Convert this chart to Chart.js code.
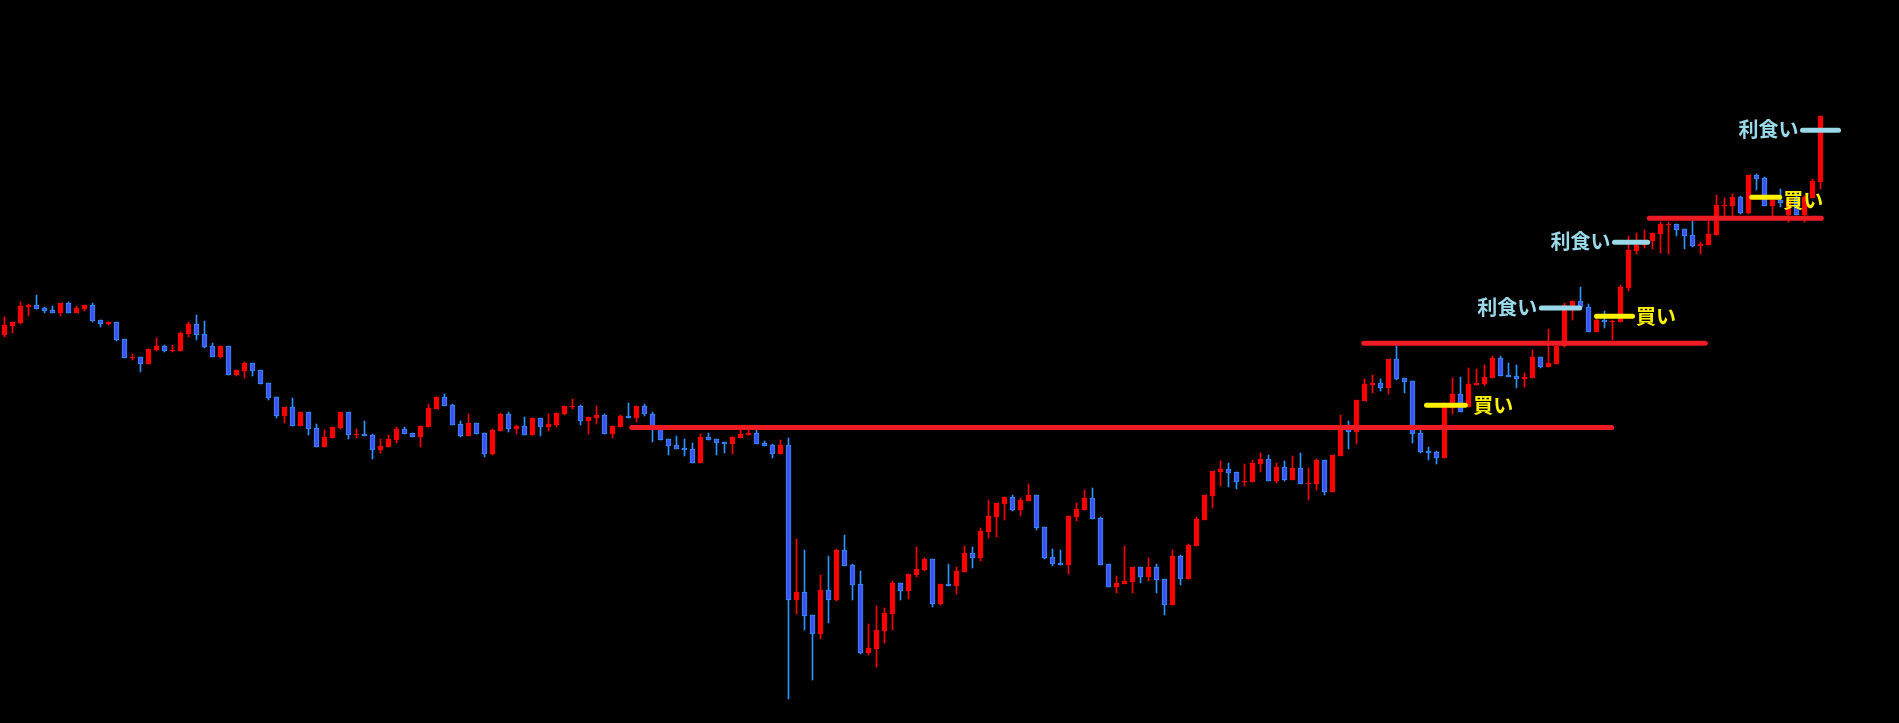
<!DOCTYPE html>
<html>

<head>
    <meta charset="utf-8">
    <script src="https://cdn.jsdelivr.net/npm/chart.js@4.4.0/dist/chart.umd.min.js"></script>
    <style>
        html, body {
            margin: 0;
            padding: 0;
            background: #000000;
        }

        #chart-container {
            width: 1899px;
            height: 723px;
            position: relative;
        }
    </style>
</head>

<body>
    <div id="chart-container">
        <canvas id="candleChart"></canvas>
    </div>
    <script>
        // OHLC per bar (price units)
        const opens = [
            388, 397, 400, 416, 418, 415, 413, 410, 420, 410,
            414, 418, 403, 399, 401, 384, 365, 366, 359, 373,
            377, 372, 372, 389, 399, 389, 377, 366, 377, 348,
            352, 360, 353, 340, 326, 307, 316, 297, 311, 295,
            276, 285, 295, 311, 288, 289, 288, 273, 276, 283,
            294, 290, 286, 296, 314, 326, 318, 299, 287, 300,
            290, 269, 292, 309, 294, 297, 288, 305, 296, 298,
            309, 316, 317, 302, 305, 308, 289, 296, 307, 305,
            317, 309, 294, 284, 278, 275, 274, 260, 286, 284,
            281, 279, 285, 288, 290, 280, 278, 269, 278, 123,
            131, 108, 89, 133, 123, 173, 158, 139, 70, 74,
            92, 109, 140, 132, 148, 153, 164, 119, 139, 137,
            151, 170, 165, 191, 206, 219, 226, 213, 222, 228,
            196, 166, 160, 158, 206, 213, 225, 205, 159, 136,
            139, 141, 156, 146, 156, 144, 118, 167, 144, 177,
            203, 227, 251, 254, 251, 241, 241, 259, 264, 242,
            256, 243, 255, 239, 239, 263, 231, 267, 294, 291,
            322, 338, 340, 335, 364, 345, 342, 290, 272, 271,
            265, 315, 329, 316, 338, 339, 345, 365, 348, 347,
            344, 345, 366, 356, 359, 377, 416, 422, 416, 391,
            403, 401, 401, 435, 472, 478, 482, 489, 498, 499,
            494, 488, 477, 478, 488, 517, 517, 526, 510, 548,
            545, 517, 523, 508, 526, 508, 525, 541
        ];
        const highs = [
            406, 401, 421, 419, 428, 416, 417, 420, 421, 417,
            418, 420, 403, 401, 401, 384, 369, 366, 374, 385,
            378, 378, 391, 401, 408, 402, 380, 377, 377, 353,
            361, 360, 353, 340, 326, 316, 325, 311, 311, 299,
            293, 296, 311, 311, 294, 302, 289, 284, 288, 296,
            296, 290, 297, 319, 326, 329, 319, 302, 309, 300,
            290, 294, 310, 311, 298, 306, 305, 305, 309, 310,
            317, 324, 318, 306, 317, 309, 297, 308, 320, 317,
            319, 311, 295, 284, 287, 284, 280, 289, 290, 284,
            281, 286, 295, 295, 294, 282, 279, 283, 285, 184,
            173, 108, 148, 167, 174, 188, 159, 152, 99, 117,
            115, 142, 140, 149, 176, 165, 164, 139, 159, 156,
            177, 176, 195, 223, 220, 226, 228, 225, 239, 228,
            196, 174, 173, 207, 220, 233, 235, 206, 159, 147,
            177, 156, 156, 165, 159, 144, 173, 168, 179, 206,
            228, 252, 262, 260, 251, 259, 263, 270, 268, 260,
            262, 267, 270, 255, 264, 263, 268, 308, 302, 323,
            344, 348, 344, 364, 377, 345, 342, 294, 276, 272,
            320, 345, 346, 355, 354, 358, 367, 367, 360, 358,
            350, 373, 366, 394, 377, 420, 422, 436, 419, 405,
            412, 403, 438, 487, 490, 493, 490, 501, 501, 499,
            494, 502, 481, 502, 528, 525, 529, 527, 548, 549,
            546, 523, 534, 525, 531, 527, 544, 607
        ];
        const lows = [
            386, 390, 399, 407, 414, 410, 410, 407, 410, 410,
            412, 401, 396, 398, 382, 365, 363, 351, 359, 372,
            371, 371, 372, 386, 383, 375, 366, 365, 348, 347,
            345, 347, 339, 323, 305, 300, 297, 297, 288, 276,
            276, 285, 294, 284, 285, 287, 264, 270, 276, 280,
            289, 286, 276, 296, 314, 317, 298, 286, 287, 289,
            266, 268, 292, 291, 289, 288, 288, 287, 292, 296,
            308, 314, 298, 289, 299, 289, 285, 296, 305, 301,
            307, 281, 283, 268, 274, 267, 260, 260, 283, 268,
            270, 269, 285, 288, 279, 277, 265, 269, 24, 109,
            93, 43, 84, 100, 122, 157, 123, 69, 68, 56,
            80, 93, 123, 124, 146, 152, 116, 118, 137, 129,
            151, 155, 162, 185, 186, 203, 212, 207, 222, 193,
            164, 157, 158, 149, 202, 213, 204, 158, 136, 130,
            139, 130, 140, 142, 130, 108, 118, 138, 144, 177,
            203, 215, 237, 236, 234, 237, 241, 251, 242, 240,
            242, 243, 239, 223, 233, 228, 231, 267, 274, 279,
            322, 330, 332, 329, 343, 330, 280, 270, 263, 259,
            265, 309, 311, 316, 338, 337, 345, 347, 346, 335,
            336, 345, 355, 356, 359, 376, 403, 416, 391, 391,
            395, 383, 401, 432, 469, 475, 474, 470, 469, 487,
            474, 476, 469, 478, 488, 507, 507, 509, 509, 533,
            517, 507, 516, 501, 508, 501, 525, 534
        ];
        const closes = [
            398, 401, 417, 418, 414, 412, 410, 420, 410, 415,
            418, 402, 399, 401, 383, 365, 366, 359, 374, 377,
            372, 373, 390, 399, 388, 376, 366, 377, 348, 353,
            360, 352, 339, 325, 307, 316, 297, 311, 294, 276,
            286, 296, 311, 288, 289, 287, 273, 277, 284, 294,
            289, 286, 297, 315, 326, 317, 298, 287, 300, 289,
            269, 293, 309, 294, 297, 288, 305, 296, 299, 310,
            317, 317, 302, 306, 308, 289, 297, 307, 305, 317,
            309, 295, 283, 277, 274, 273, 260, 286, 283, 280,
            279, 286, 289, 290, 279, 277, 269, 278, 123, 131,
            107, 89, 133, 123, 173, 157, 138, 70, 75, 93,
            110, 140, 132, 149, 154, 164, 119, 139, 137, 152,
            170, 165, 192, 207, 220, 226, 213, 223, 228, 195,
            165, 159, 158, 207, 214, 225, 204, 158, 136, 140,
            142, 156, 146, 156, 143, 118, 167, 144, 178, 204,
            228, 252, 254, 250, 241, 242, 260, 264, 242, 256,
            243, 255, 239, 240, 263, 231, 268, 297, 291, 323,
            339, 340, 335, 364, 344, 341, 289, 271, 270, 265,
            319, 329, 311, 339, 340, 346, 365, 347, 346, 344,
            346, 366, 356, 360, 377, 418, 422, 416, 391, 403,
            401, 402, 436, 473, 478, 481, 490, 499, 499, 493,
            487, 477, 479, 489, 518, 518, 526, 510, 548, 544,
            517, 523, 520, 523, 508, 526, 542, 607
        ];

        // hand-drawn levels: bar index range and price
        const lineFrom = [78.4, 169.9, 205.6];
        const lineTo = [200.9, 212.6, 227.1];
        const lineLevel = [295.5, 379.7, 504.7];

        const buyFrom = [177.75, 199, 218.4];
        const buyTo = [182.6, 203.5, 221.9];
        const buyLevel = [317.7, 406.7, 525.7];

        const takeFrom = [192.1, 201.25, 224.75];
        const takeTo = [196.9, 205.4, 229.25];
        const takeLevel = [415, 480.7, 592.7];

        const buyLabel = '買い';
        const takeLabel = '利食い';

        const UP = '#ff0000';
        const DOWN_FILL = '#4052f0';
        const DOWN_EDGE = '#3190ff';
        const LINE_RED = '#ed1c24';
        const LINE_YELLOW = '#fff200';
        const LINE_BLUE = '#99d9ea';

        // the labels were placed by hand, so the gaps differ a little
        const buyGapX = [8, 3.5, 3.5];
        const buyGapY = [0, 0, 3];

        const isUp = closes.map((c, i) => c >= opens[i]);

        const wickData = opens.map((o, i) => ({ x: i, y: [lows[i], highs[i]] }));
        const bodyData = opens.map((o, i) => ({ x: i, y: [o, closes[i]] }));

        function segment(from, to, level, color) {
            return {
                type: 'line',
                data: [{ x: from, y: level }, { x: to, y: level }],
                borderColor: color,
                borderWidth: 5,
                borderCapStyle: 'round',
                pointRadius: 0,
                fill: false,
                order: 0
            };
        }

        const lineSets = [];
        lineLevel.forEach((lv, k) => lineSets.push(segment(lineFrom[k], lineTo[k], lv, LINE_RED)));
        buyLevel.forEach((lv, k) => lineSets.push(segment(buyFrom[k], buyTo[k], lv, LINE_YELLOW)));
        takeLevel.forEach((lv, k) => lineSets.push(segment(takeFrom[k], takeTo[k], lv, LINE_BLUE)));

        // labels next to the yellow / light blue marks
        const tradeLabels = {
            id: 'tradeLabels',
            afterDatasetsDraw(chart) {
                const { ctx, scales } = chart;
                const x = scales.x, y = scales.y;
                ctx.save();
                ctx.font = 'bold 20px "Noto Sans CJK JP"';
                ctx.textBaseline = 'middle';

                ctx.fillStyle = LINE_YELLOW;
                ctx.textAlign = 'left';
                buyLevel.forEach((lv, k) => {
                    ctx.fillText(buyLabel, x.getPixelForValue(buyTo[k]) + buyGapX[k],
                        y.getPixelForValue(lv) + buyGapY[k]);
                });

                ctx.fillStyle = LINE_BLUE;
                ctx.textAlign = 'right';
                takeLevel.forEach((lv, k) => {
                    ctx.fillText(takeLabel, x.getPixelForValue(takeFrom[k]) - 4, y.getPixelForValue(lv) - 1);
                });
                ctx.restore();
            }
        };

        const ctx = document.getElementById('candleChart').getContext('2d');

        const candleChart = new Chart(ctx, {
            type: 'bar',
            data: {
                datasets: [
                    ...lineSets,
                    {
                        label: 'body',
                        data: bodyData,
                        backgroundColor: isUp.map(u => u ? UP : DOWN_FILL),
                        borderColor: isUp.map(u => u ? UP : DOWN_EDGE),
                        borderWidth: 1,
                        borderSkipped: false,
                        barThickness: 5,
                        minBarLength: 1,
                        grouped: false,
                        order: 1
                    },
                    {
                        label: 'wick',
                        data: wickData,
                        backgroundColor: isUp.map(u => u ? UP : DOWN_EDGE),
                        borderWidth: 0,
                        barThickness: 1,
                        minBarLength: 1,
                        grouped: false,
                        order: 2
                    }
                ]
            },
            options: {
                responsive: true,
                maintainAspectRatio: false,
                animation: false,
                layout: { padding: 0 },
                plugins: {
                    legend: { display: false },
                    tooltip: { enabled: false }
                },
                scales: {
                    x: {
                        type: 'linear',
                        display: false,
                        offset: false,
                        min: -0.5625,
                        max: 236.8125
                    },
                    y: {
                        type: 'linear',
                        display: false,
                        min: 0,
                        max: 723
                    }
                }
            },
            plugins: [tradeLabels]
        });
    </script>
</body>

</html>
